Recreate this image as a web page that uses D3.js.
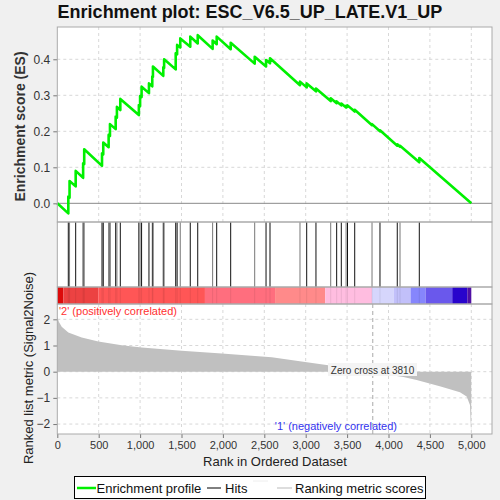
<!DOCTYPE html>
<html>
<head>
<meta charset="utf-8">
<script src="https://cdn.jsdelivr.net/npm/d3@7"></script>
<style>
  html, body { margin: 0; padding: 0; background: #f0f0f0; }
  svg { display: block; font-family: "Liberation Sans", Arial, sans-serif; }
  .tick text { fill: #333; }
  .grid line { stroke: #d8d8d8; stroke-dasharray: 3,3; }
</style>
</head>
<body>
<svg id="chart" width="500" height="500"></svg>
<script>
// ranks of the hits, with ES just before and just after each step
const hitRanks = [133, 148, 222, 312, 325, 540, 555, 620, 636, 705, 720, 761, 985, 1000, 1018,
  1107, 1147, 1155, 1280, 1290, 1430, 1447, 1485, 1606, 1696, 1876, 1925, 2094, 2384, 2521,
  2569, 2931, 3012, 3124, 3302, 3374, 3430, 3488, 3505, 3592, 3801, 3897, 4106, 4139, 4372];
const esBefore = [-0.028, 0.016, 0.047, 0.071, 0.109, 0.104, 0.136, 0.156, 0.187, 0.206, 0.238, 0.259, 0.245, 0.270, 0.295,
  0.306, 0.325, 0.351, 0.354, 0.376, 0.372, 0.414, 0.433, 0.435, 0.444, 0.429, 0.442, 0.428, 0.388, 0.380,
  0.389, 0.328, 0.322, 0.311, 0.284, 0.278, 0.272, 0.266, 0.268, 0.255, 0.217, 0.200, 0.160, 0.157, 0.114];
const esAfter = [0.019, 0.062, 0.090, 0.111, 0.150, 0.139, 0.169, 0.190, 0.220, 0.241, 0.268, 0.290, 0.273, 0.298, 0.324,
  0.333, 0.352, 0.380, 0.378, 0.400, 0.417, 0.440, 0.458, 0.463, 0.467, 0.452, 0.463, 0.446, 0.407, 0.398,
  0.403, 0.338, 0.333, 0.319, 0.292, 0.283, 0.277, 0.271, 0.272, 0.260, 0.220, 0.203, 0.164, 0.160, 0.126];
const totalRanks = 5000;

// ranked list metric
const metricRanks = [0, 5, 20, 53, 133, 295, 495, 778, 1019, 1502, 1986, 2590, 2971, 3293, 3810, 4018, 4180, 4340, 4630, 4863, 4944, 4984, 4992, 4999];
const metricValues = [2.10, 2.04, 1.90, 1.72, 1.50, 1.31, 1.15, 1.01, 0.92, 0.80, 0.69, 0.55, 0.38, 0.24, 0.0, -0.13, -0.20, -0.32, -0.57, -0.79, -0.95, -1.27, -1.91, -2.38];
const zeroCross = 3810;

// colour band under the hits
const bandEdges = [0, 73, 495, 1783, 2630, 3235, 3800, 4065, 4267, 4448, 4770, 4952, 5000];
const bandColors = ["#dc0a0a", "#ec4242", "#ff5656", "#ff6e7e", "#ff8a8a", "#ffbde0", "#d6d6fc", "#c2c0fa", "#8686fc", "#6a58ec", "#2804cc", "#5010a4"];

const xTicks = [0, 500, 1000, 1500, 2000, 2500, 3000, 3500, 4000, 4500, 5000];
const esTicks = [0.0, 0.1, 0.2, 0.3, 0.4];
const metricTicks = [2, 1, 0, -1, -2];

const svg = d3.select("#chart");
const L = 57.3, R = 492;
const ES_T = 27, ES_B = 222, HIT_B = 287, BAR_B = 304, M_B = 434;

const x = d3.scaleLinear().domain([0, 5250]).range([L, R]);
const yEs = d3.scaleLinear().domain([-0.0519, 0.4897]).range([ES_B, ES_T]);
const yM = d3.scaleLinear().domain([-2.38, 2.585]).range([M_B, BAR_B]);

// title
svg.append("text").attr("x", 250).attr("y", 18).attr("text-anchor", "middle")
  .style("font-weight", "bold").style("font-size", "18px").attr("fill", "#111")
  .text("Enrichment plot: ESC_V6.5_UP_LATE.V1_UP");

// panel backgrounds
svg.append("rect").attr("x", L).attr("y", ES_T).attr("width", R - L).attr("height", M_B - ES_T).attr("fill", "#fff");

// --- ES panel
const gEs = svg.append("g");
gEs.append("g").attr("class", "grid")
  .selectAll("line.v").data(xTicks.slice(1)).join("line")
  .attr("x1", d => x(d)).attr("x2", d => x(d)).attr("y1", ES_T).attr("y2", ES_B);
gEs.append("g").attr("class", "grid")
  .selectAll("line.h").data(esTicks.slice(1)).join("line")
  .attr("x1", L).attr("x2", R).attr("y1", d => yEs(d)).attr("y2", d => yEs(d));
gEs.append("line").attr("x1", L).attr("x2", R).attr("y1", yEs(0)).attr("y2", yEs(0))
  .attr("stroke", "#8a8a8a").attr("stroke-width", 1);

const esPts = [[0, 0]];
hitRanks.forEach((r, i) => { esPts.push([r, esBefore[i]]); esPts.push([r, esAfter[i]]); });
esPts.push([totalRanks, 0]);
gEs.append("path").attr("d", d3.line().x(d => x(d[0])).y(d => yEs(d[1]))(esPts))
  .attr("fill", "none").attr("stroke", "#00f000").attr("stroke-width", 2.6).attr("stroke-linejoin", "round");

const esAxis = d3.axisLeft(yEs).tickValues(esTicks).tickFormat(d3.format(".1f")).tickSize(4);
svg.append("g").attr("transform", `translate(${L},0)`).call(esAxis)
  .call(g => g.select(".domain").remove())
  .call(g => g.selectAll(".tick line").attr("stroke", "#777"))
  .call(g => g.selectAll("text").style("font-size", "12px"));

svg.append("text").attr("transform", `translate(25,${(ES_T + ES_B) / 2 + 2}) rotate(-90)`)
  .attr("text-anchor", "middle").style("font-weight", "bold").style("font-size", "14px").attr("fill", "#333")
  .text("Enrichment score (ES)");

// --- hits
svg.append("g").selectAll("line").data(hitRanks).join("line")
  .attr("x1", d => x(d)).attr("x2", d => x(d)).attr("y1", ES_B).attr("y2", HIT_B)
  .attr("stroke", (d, i) => i % 3 === 1 ? "#777" : "#111").attr("stroke-width", 1);

// --- colour band
const bands = bandColors.map((c, i) => ({ from: bandEdges[i], to: bandEdges[i + 1], color: c }));
svg.append("g").selectAll("rect").data(bands).join("rect")
  .attr("x", d => x(d.from)).attr("width", d => x(d.to) - x(d.from))
  .attr("y", HIT_B).attr("height", BAR_B - HIT_B).attr("fill", d => d.color);
svg.append("g").selectAll("line").data(hitRanks).join("line")
  .attr("x1", d => x(d)).attr("x2", d => x(d)).attr("y1", HIT_B).attr("y2", BAR_B)
  .attr("stroke", "#000").attr("stroke-opacity", 0.08);

// --- metric panel
const gM = svg.append("g");
gM.append("g").attr("class", "grid")
  .selectAll("line").data(xTicks.slice(1)).join("line")
  .attr("x1", d => x(d)).attr("x2", d => x(d)).attr("y1", BAR_B).attr("y2", M_B);
gM.append("g").attr("class", "grid")
  .selectAll("line").data(metricTicks).join("line")
  .attr("x1", L).attr("x2", R).attr("y1", d => yM(d)).attr("y2", d => yM(d));

const mPts = metricRanks.map((r, i) => [r, metricValues[i]]);
gM.append("path")
  .attr("d", d3.area().x(d => x(d[0])).y0(yM(0)).y1(d => yM(d[1]))(mPts))
  .attr("fill", "#c0c0c0");

gM.append("line").attr("x1", x(zeroCross)).attr("x2", x(zeroCross)).attr("y1", BAR_B).attr("y2", M_B)
  .attr("stroke", "#aaa").attr("stroke-dasharray", "4,3");

const zc = gM.append("g");
zc.append("rect").attr("x", 328).attr("y", 363).attr("width", 89).attr("height", 13).attr("fill", "#f4f4f4");
zc.append("text").attr("x", 372.5).attr("y", 373.5).attr("text-anchor", "middle")
  .style("font-size", "10px").attr("fill", "#333").text("Zero cross at " + zeroCross);

gM.append("text").attr("x", 59).attr("y", 315).style("font-size", "11px").attr("fill", "#ff3030")
  .text("'2' (positively correlated)");
gM.append("text").attr("x", 397).attr("y", 429.5).attr("text-anchor", "end").style("font-size", "11px").attr("fill", "#3333ee")
  .text("'1' (negatively correlated)");

const mAxis = d3.axisLeft(yM).tickValues(metricTicks).tickFormat(d3.format("d")).tickSize(4);
svg.append("g").attr("transform", `translate(${L},0)`).call(mAxis)
  .call(g => g.select(".domain").remove())
  .call(g => g.selectAll(".tick line").attr("stroke", "#777"))
  .call(g => g.selectAll("text").style("font-size", "12px"));

const xAxis = d3.axisBottom(x).tickValues(xTicks).tickFormat(d3.format(",")).tickSize(4);
svg.append("g").attr("transform", `translate(0,${M_B})`).call(xAxis)
  .call(g => g.select(".domain").remove())
  .call(g => g.selectAll(".tick line").attr("stroke", "#777"))
  .call(g => g.selectAll("text").style("font-size", "11px"));

svg.append("text").attr("x", 275).attr("y", 465.5).attr("text-anchor", "middle")
  .style("font-size", "13px").attr("fill", "#222").text("Rank in Ordered Dataset");
svg.append("text").attr("transform", `translate(33,368) rotate(-90)`)
  .attr("text-anchor", "middle").style("font-size", "13px").attr("fill", "#222")
  .text("Ranked list metric (Signal2Noise)");

// panel borders
[[ES_T, ES_B], [ES_B, HIT_B], [HIT_B, BAR_B], [BAR_B, M_B]].forEach(([t, b]) => {
  svg.append("rect").attr("x", L).attr("y", t).attr("width", R - L).attr("height", b - t)
    .attr("fill", "none").attr("stroke", "#aaa").attr("stroke-width", 1);
});

// legend
const lg = svg.append("g");
lg.append("rect").attr("x", 74.5).attr("y", 476.5).attr("width", 351).attr("height", 22)
  .attr("fill", "#fff").attr("stroke", "#000");
const legendItems = [
  { x1: 77, x2: 96, y: 488, color: "#00f000", w: 2.5, label: "Enrichment profile", tx: 96.5 },
  { x1: 207, x2: 221, y: 488, color: "#000", w: 1, label: "Hits", tx: 225 },
  { x1: 253, x2: 268, y: 481, color: "#eee", w: 1, label: "", tx: 0 },
  { x1: 277, x2: 292, y: 488, color: "#bbb", w: 1, label: "Ranking metric scores", tx: 295 }
];
legendItems.forEach(d => {
  lg.append("line").attr("x1", d.x1).attr("x2", d.x2).attr("y1", d.y).attr("y2", d.y)
    .attr("stroke", d.color).attr("stroke-width", d.w);
  if (d.label) lg.append("text").attr("x", d.tx).attr("y", 492.5).style("font-size", "13px")
    .attr("fill", "#111").text(d.label);
});
</script>
</body>
</html>
